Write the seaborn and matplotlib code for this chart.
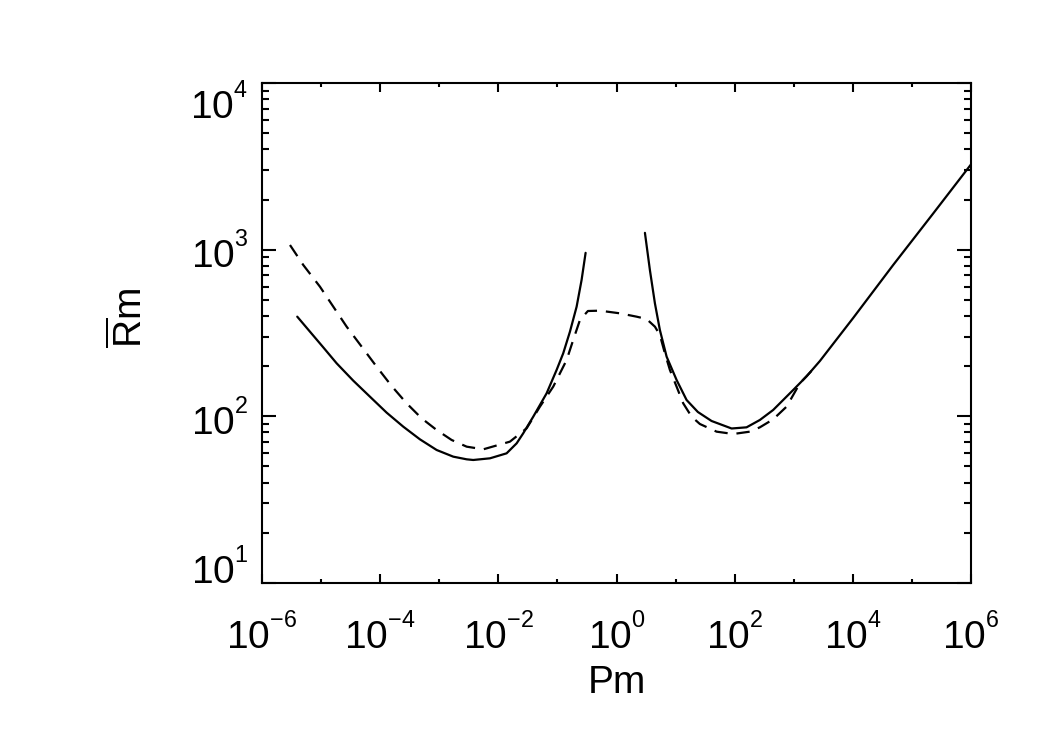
import numpy as np
import pandas as pd
import seaborn as sns
import matplotlib
matplotlib.use("Agg")
from matplotlib import pyplot as plt
from matplotlib import _mathtext

# data, as log10(Pm) and log10(Rm)
# solid curve, branch left of the gap
lpm_solid_left = [-5.403, -5.188, -4.963, -4.736, -4.455, -4.173, -3.890, -3.609, -3.327, -3.044,
                  -2.763, -2.536, -2.425, -2.142, -1.860, -1.690, -1.579, -1.409, -1.183, -1.014,
                  -0.902, -0.788, -0.675, -0.591, -0.523]
lrm_solid_left = [2.598, 2.508, 2.414, 2.318, 2.214, 2.118, 2.022, 1.938, 1.862, 1.798,
                  1.758, 1.742, 1.738, 1.748, 1.778, 1.838, 1.898, 1.998, 2.138, 2.278,
                  2.378, 2.508, 2.658, 2.818, 2.981]
# solid curve, branch right of the gap
lpm_solid_right = [0.481, 0.565, 0.650, 0.734, 0.848, 1.017, 1.186, 1.377, 1.609, 1.948,
                   2.201, 2.426, 2.651, 2.990, 3.217, 3.442, 4.005, 4.682, 5.359, 6.0]
lrm_solid_right = [3.101, 2.878, 2.678, 2.518, 2.358, 2.218, 2.098, 2.026, 1.972, 1.927,
                   1.934, 1.978, 2.038, 2.158, 2.240, 2.332, 2.590, 2.908, 3.217, 3.512]
# dashed curve
lpm_dashed = [-5.526, -5.301, -5.019, -4.793, -4.567, -4.313, -4.060, -3.806, -3.552, -3.298,
              -3.044, -2.790, -2.536, -2.255, -1.804, -1.521, -1.296, -1.071, -0.844, -0.733,
              -0.619, -0.484, -0.281, 0.058, 0.340, 0.509, 0.650, 0.734, 0.819, 0.904,
              1.017, 1.129, 1.271, 1.411, 1.694, 1.975, 2.257, 2.426, 2.651, 2.878,
              3.103, 3.386]
lrm_dashed = [3.028, 2.908, 2.778, 2.658, 2.538, 2.418, 2.298, 2.182, 2.078, 1.988,
              1.918, 1.858, 1.818, 1.802, 1.848, 1.928, 2.058, 2.178, 2.338, 2.458,
              2.578, 2.632, 2.634, 2.618, 2.598, 2.584, 2.538, 2.488, 2.378, 2.278,
              2.178, 2.078, 1.998, 1.954, 1.908, 1.894, 1.908, 1.934, 1.982, 2.058,
              2.198, 2.305]

x_major = [1e-6, 1e-4, 1e-2, 1e0, 1e2, 1e4, 1e6]
x_minor = [1e-5, 1e-3, 1e-1, 1e1, 1e3, 1e5]
x_labels = ["$10^{-6}$", "$10^{-4}$", "$10^{-2}$", "$10^{0}$", "$10^{2}$", "$10^{4}$", "$10^{6}$"]
y_major = [1e1, 1e2, 1e3, 1e4]
y_labels = ["$10^{1}$", "$10^{2}$", "$10^{3}$", "$10^{4}$"]

sns.set_theme(style="ticks")
plt.rcParams['font.family'] = ['Liberation Sans', 'DejaVu Sans']
plt.rcParams['mathtext.fontset'] = 'custom'
plt.rcParams['mathtext.rm'] = 'Liberation Sans'
plt.rcParams['mathtext.it'] = 'Liberation Sans'
plt.rcParams['mathtext.default'] = 'regular'
_mathtext.SHRINK_FACTOR = 0.6  # smaller exponents, like the original
_mathtext.FontConstantsBase.sup1 = 1.0

fig = plt.figure(figsize=(10.5, 7.5), dpi=100)
ax = fig.add_axes([0.2495, 0.2227, 0.6753, 0.6666])
ax.set_xscale("log")
ax.set_yscale("log")

df_sl = pd.DataFrame({"Pm": 10 ** np.array(lpm_solid_left), "Rm": 10 ** np.array(lrm_solid_left)})
df_sr = pd.DataFrame({"Pm": 10 ** np.array(lpm_solid_right), "Rm": 10 ** np.array(lrm_solid_right)})
df_d = pd.DataFrame({"Pm": 10 ** np.array(lpm_dashed), "Rm": 10 ** np.array(lrm_dashed)})

sns.lineplot(data=df_sl, x="Pm", y="Rm", ax=ax, color="black", lw=1.6, sort=False, estimator=None)
sns.lineplot(data=df_sr, x="Pm", y="Rm", ax=ax, color="black", lw=1.6, sort=False, estimator=None)
sns.lineplot(data=df_d, x="Pm", y="Rm", ax=ax, color="black", lw=1.6, sort=False, estimator=None,
             linestyle=(0, (6, 4)))

ax.set_xlim(1e-6, 1e6)
ax.set_ylim(1e1, 1e4)

ax.set_xticks(x_major, x_labels)
ax.set_xticks(x_minor, minor=True)
ax.set_xticklabels([], minor=True)
ax.set_yticks(y_major, y_labels)
ax.yaxis.set_minor_locator(matplotlib.ticker.LogLocator(base=10, subs=np.arange(2, 10)))
ax.yaxis.set_minor_formatter(matplotlib.ticker.NullFormatter())

for s in ax.spines.values():
    s.set_linewidth(1.5)
    s.set_color("black")

ax.tick_params(axis="both", which="both", direction="in", top=True, right=True,
               width=1.5, color="black", labelcolor="black", labelsize=28)
ax.tick_params(axis="x", which="major", length=6.5, pad=22)
ax.tick_params(axis="x", which="minor", length=3)
ax.tick_params(axis="y", which="major", length=10, pad=10)
ax.tick_params(axis="y", which="minor", length=5)

# outer y labels sit inside the axis range, as in the original
ylabs = ax.get_yticklabels()
ylabs[0].set_verticalalignment("baseline")
ylabs[-1].set_verticalalignment("top")

ax.set_xlabel("Pm", fontsize=28, color="black")
ax.set_ylabel(r"$\overline{R}$m", fontsize=28, color="black")
ax.xaxis.set_label_coords(0.5, -0.165)
ax.yaxis.set_label_coords(-0.158, 0.53)

fig.savefig("out.png", dpi=100, facecolor="white")
